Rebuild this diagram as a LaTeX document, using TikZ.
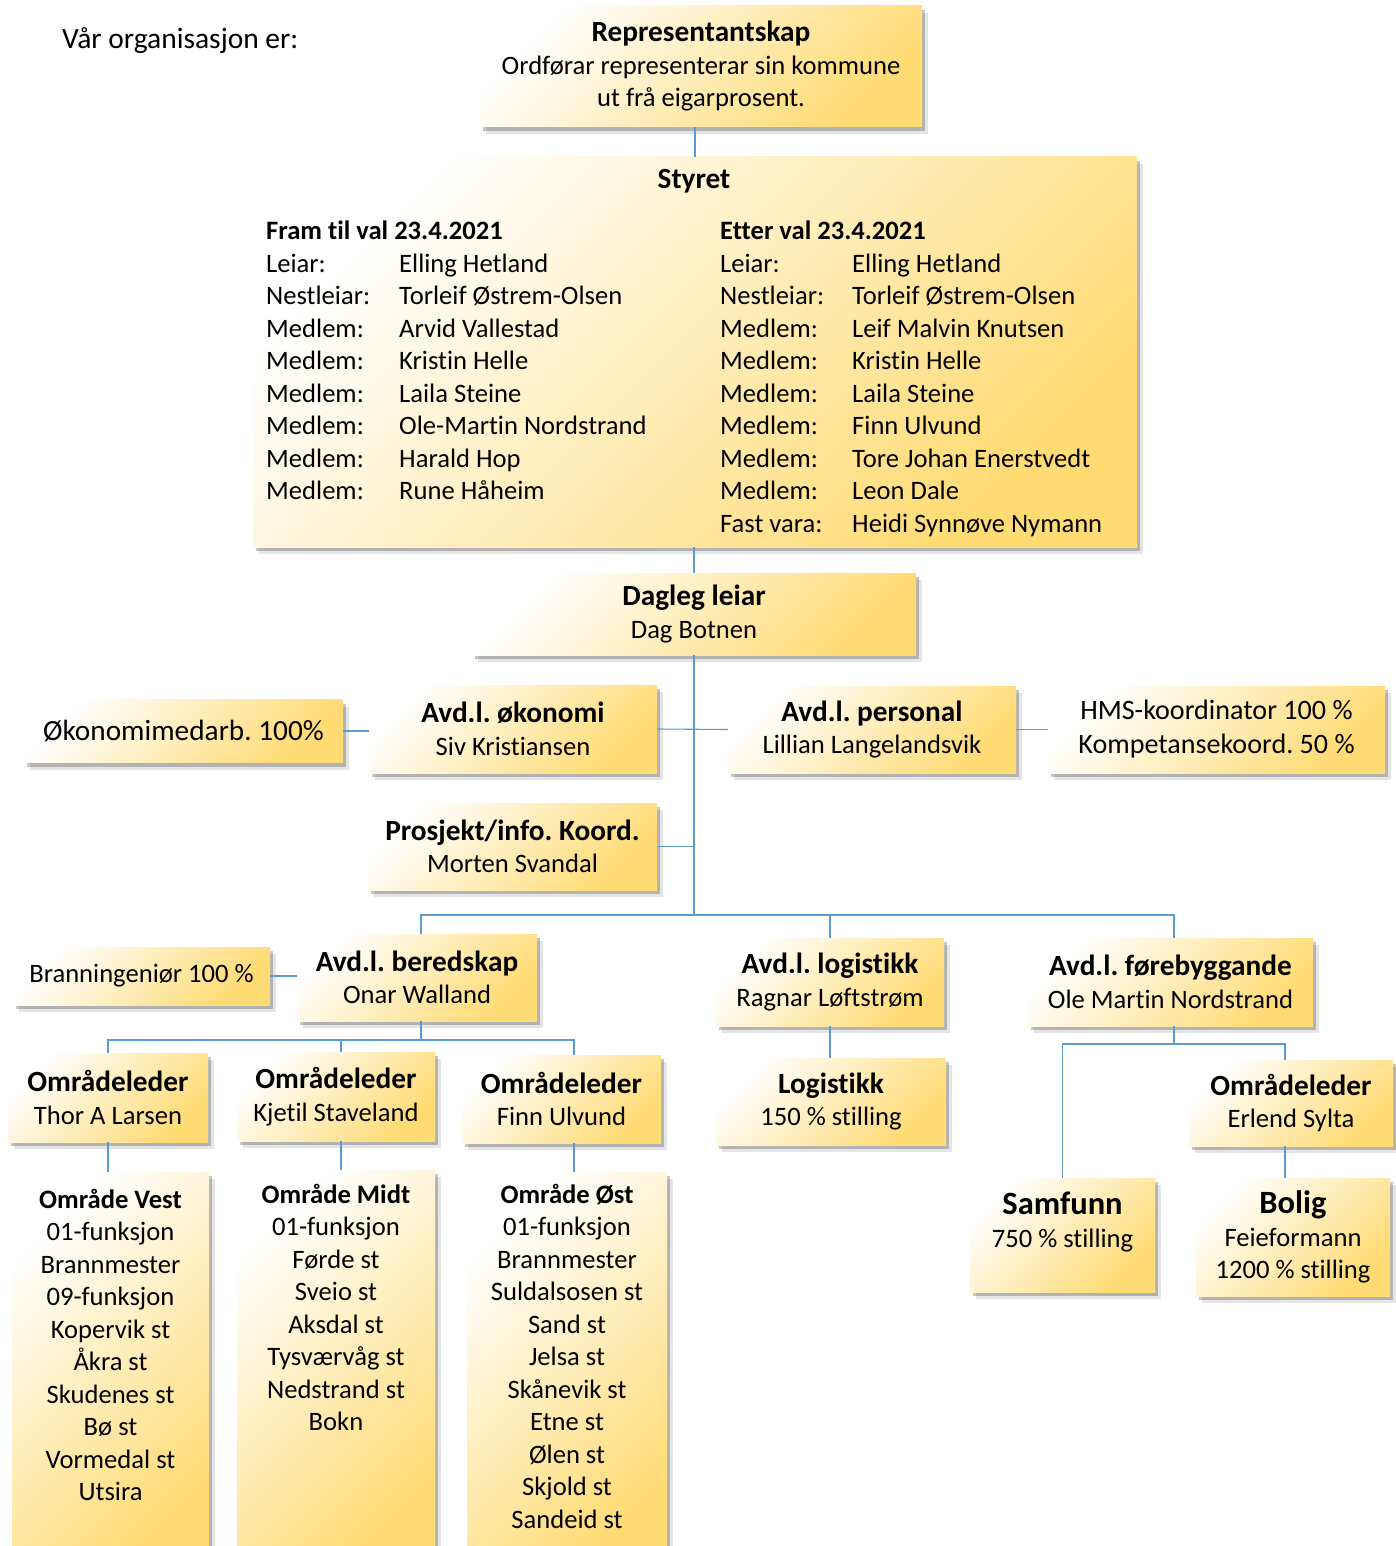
\documentclass[tikz,border=0pt]{standalone}
\usepackage{fontspec}
\setmainfont{Carlito}[Ligatures=NoCommon]
\usetikzlibrary{shadows}
\definecolor{boxgold}{RGB}{255,219,115}
\definecolor{linkblue}{RGB}{91,155,213}
\tikzset{
  box/.style={rectangle, inner sep=0pt, align=center,
    top color=white, bottom color=boxgold, shading angle=45,
    drop shadow={shadow xshift=3pt, shadow yshift=-4pt, opacity=.22, fill=black},
    drop shadow={shadow xshift=6pt, shadow yshift=-7pt, opacity=.10, fill=black}},
  link/.style={draw=linkblue, line width=1.1pt},
  txt/.style={inner sep=0pt, align=center},
}
\newcommand{\hd}[1]{{\fontsize{29.3}{32.5}\selectfont\bfseries #1}}
\newcommand{\bigtitle}[1]{{\fontsize{32.5}{36}\selectfont\bfseries #1}}
\frenchspacing

\begin{document}
\begin{tikzpicture}[x=1pt, y=-1pt, font=\fontsize{26.6}{32.5}\selectfont]
	\useasboundingbox (0,0) rectangle (1395,1546);
	
	\node[txt, anchor=west, font=\fontsize{29.5}{32.5}\selectfont] (intro) at (62,41) {Vår organisasjon er:};
	
	\node[box, minimum width=442, minimum height=121] (rep) at (701,66.5) {\hd{Representantskap}\\Ordførar representerar sin kommune\\ut frå eigarprosent.};
	
	\node[box, minimum width=884, minimum height=390] (styret) at (695,352) {};
	\node[txt] (stytitle) at (694,181) {\hd{Styret}};
	\node[txt, anchor=base west] (fram) at (266,240) {\begin{tabular}[t]{@{}p{133pt}@{}l@{}}
		\multicolumn{2}{@{}l@{}}{\textbf{Fram til val 23.4.2021}}\\
		Leiar: & Elling Hetland\\
		Nestleiar: & Torleif Østrem-Olsen\\
		Medlem: & Arvid Vallestad\\
		Medlem: & Kristin Helle\\
		Medlem: & Laila Steine\\
		Medlem: & Ole-Martin Nordstrand\\
		Medlem: & Harald Hop\\
		Medlem: & Rune Håheim
	\end{tabular}};
	\node[txt, anchor=base west] (etter) at (720,240) {\begin{tabular}[t]{@{}p{132pt}@{}l@{}}
		\multicolumn{2}{@{}l@{}}{\textbf{Etter val 23.4.2021}}\\
		Leiar: & Elling Hetland\\
		Nestleiar: & Torleif Østrem-Olsen\\
		Medlem: & Leif Malvin Knutsen\\
		Medlem: & Kristin Helle\\
		Medlem: & Laila Steine\\
		Medlem: & Finn Ulvund\\
		Medlem: & Tore Johan Enerstvedt\\
		Medlem: & Leon Dale\\
		Fast vara: & Heidi Synnøve Nymann
	\end{tabular}};
	
	\node[box, minimum width=444, minimum height=82] (dag) at (694,614) {\hd{Dagleg leiar}\\Dag Botnen};
	
	\node[box, minimum width=319, minimum height=63, font=\fontsize{29.3}{32.5}\selectfont] (okmed) at (183.5,731) {Økonomimedarb. 100\%};
	\node[box, minimum width=288, minimum height=88] (okon) at (513,729) {\hd{Avd.l. økonomi}\\Siv Kristiansen};
	\node[box, minimum width=288, minimum height=87] (pers) at (872,729.5) {\hd{Avd.l. personal}\\Lillian Langelandsvik};
	\node[box, minimum width=337, minimum height=87, font=\fontsize{28.1}{34}\selectfont] (hms) at (1216.5,729.5) {HMS-koordinator 100 \%\\Kompetansekoord. 50 \%};
	\node[box, minimum width=289, minimum height=87] (proj) at (512.5,846.5) {\hd{Prosjekt/info. Koord.}\\Morten Svandal};
	
	\node[box, minimum width=257, minimum height=58] (brann) at (141.5,976) {Branningeniør 100 \%};
	\node[box, minimum width=240, minimum height=87] (bered) at (417,977.5) {\hd{Avd.l. beredskap}\\Onar Walland};
	\node[box, minimum width=228, minimum height=88] (logi) at (830,982) {\hd{Avd.l. logistikk}\\Ragnar Løftstrøm};
	\node[box, minimum width=285, minimum height=88] (fore) at (1170.5,982) {\hd{Avd.l. førebyggande}\\Ole Martin Nordstrand};
	
	\node[box, minimum width=200, minimum height=89] (omr1) at (108,1097.5) {\hd{Områdeleder}\\Thor A Larsen};
	\node[box, minimum width=198, minimum height=89] (omr2) at (336,1096.5) {\hd{Områdeleder}\\Kjetil Staveland};
	\node[box, minimum width=199, minimum height=88] (omr3) at (561.5,1099) {\hd{Områdeleder}\\Finn Ulvund};
	\node[box, minimum width=230, minimum height=87] (logst) at (831,1101.5) {\hd{Logistikk}\\150 \% stilling};
	\node[box, minimum width=204, minimum height=86] (omr4) at (1291,1103) {\hd{Områdeleder}\\Erlend Sylta};
	
	\node[box, anchor=north, minimum width=197, minimum height=400] (vest) at (110.5,1172) {};
	\node[txt, anchor=base] (vestt) at (110.5,1208) {\begin{tabular}[t]{@{}c@{}}
		\textbf{Område Vest}\\01-funksjon\\Brannmester\\09-funksjon\\Kopervik st\\Åkra st\\Skudenes st\\Bø st\\Vormedal st\\Utsira
	\end{tabular}};
	\node[box, anchor=north, minimum width=198, minimum height=400] (midt) at (336,1170) {};
	\node[txt, anchor=base] (midtt) at (336,1203) {\begin{tabular}[t]{@{}c@{}}
		\textbf{Område Midt}\\01-funksjon\\Førde st\\Sveio st\\Aksdal st\\Tysværvåg st\\Nedstrand st\\Bokn
	\end{tabular}};
	\node[box, anchor=north, minimum width=200, minimum height=400] (ost) at (567,1172) {};
	\node[txt, anchor=base] (ostt) at (567,1203) {\begin{tabular}[t]{@{}c@{}}
		\textbf{Område Øst}\\01-funksjon\\Brannmester\\Suldalsosen st\\Sand st\\Jelsa st\\Skånevik st\\Etne st\\Ølen st\\Skjold st\\Sandeid st
	\end{tabular}};
	
	\node[box, minimum width=185, minimum height=114] (samf) at (1062.5,1235) {};
	\node[txt] (samft) at (1062.5,1222) {\bigtitle{Samfunn}\\750 \% stilling};
	\node[box, minimum width=194, minimum height=118] (bolig) at (1293,1237) {\bigtitle{Bolig}\\Feieformann\\1200 \% stilling};
	
	% connector ends where the lines meet the boxes
	\coordinate (bus1) at (694,915);
	\coordinate (bus2) at (421,1040);
	\coordinate (bus3) at (1174,1044);
	\coordinate (beredN) at ([xshift=4pt]bered.north);
	\coordinate (foreN) at ([xshift=3.5pt]fore.north);
	\coordinate (omr2N) at ([xshift=5pt]omr2.north);
	\coordinate (omr3N) at ([xshift=12.5pt]omr3.north);
	\coordinate (omr4N) at ([xshift=-6pt]omr4.north);
	
	\draw[link] (styret.north) -- (styret.north |- rep.south);
	\draw[link] (dag.north) -- (dag.north |- styret.south);
	\draw[link] (dag.south) -- (bus1);
	\draw[link] (okmed.east) -- (okmed.east -| okon.west);
	\draw[link] (okon.east) -- (pers.west);
	\draw[link] (pers.east) -- (hms.west);
	\draw[link] (proj.east) -- (proj.east -| bus1);
	
	\draw[link] (beredN) |- (bus1) -| (foreN);
	\draw[link] (logi.north) -- (logi.north |- bus1);
	\draw[link] (brann.east) -- (brann.east -| bered.west);
	
	\draw[link] (bered.south -| bus2) -- (bus2);
	\draw[link] (omr1.north) |- (bus2) -| (omr3N);
	\draw[link] (omr2N) -- (omr2N |- bus2);
	\draw[link] (omr1.south) -- (omr1.south |- vest.north);
	\draw[link] (omr2N |- omr2.south) -- (omr2N |- midt.north);
	\draw[link] (omr3N |- omr3.south) -- (omr3N |- ost.north);
	
	\draw[link] (logi.south) -- (logi.south |- logst.north);
	\draw[link] (fore.south -| bus3) -- (bus3);
	\draw[link] (samf.north) |- (bus3) -| (omr4N);
	\draw[link] (omr4N |- omr4.south) -- (omr4N |- bolig.north);
	
\end{tikzpicture}
\end{document}
